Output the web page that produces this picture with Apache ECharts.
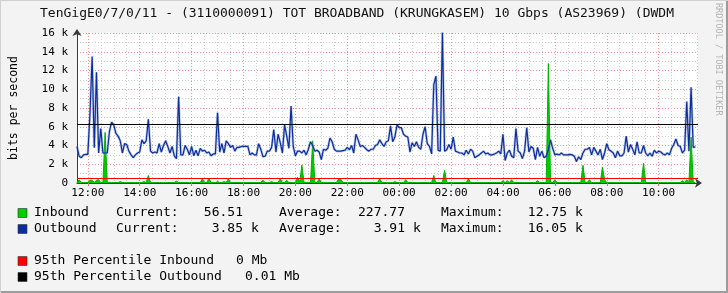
<!DOCTYPE html>
<html>
<head>
<meta charset="utf-8">
<script src="https://cdn.jsdelivr.net/npm/echarts@6/dist/echarts.min.js"></script>
<style>
html,body{margin:0;padding:0;background:#f3f3f3;}
#chart{width:728px;height:293px;}
</style>
</head>
<body>
<div id="chart"></div>
<script>
// ---- data (values in k bits per second, 5-minute samples) ----
const startMinute = 695;   // 11:35 on day 1
const stepMinutes = 5;
const endMinute = 2131;

const inbound = [
0.05,0.35,0.05,0.05,0.05,0.05,0.3,0.3,0.05,0.3,
0.35,0.05,0.05,5.4,0.05,0.05,0.05,0.05,0.05,0.05,
0.15,0.05,0.05,0.05,0.05,0.05,0.05,0.05,0.05,0.05,
0.05,0.15,0.05,0.8,0.05,0.05,0.05,0.05,0.05,0.05,
0.05,0.05,0.05,0.05,0.05,0.05,0.2,0.05,0.05,0.05,
0.05,0.05,0.05,0.05,0.05,0.05,0.05,0.05,0.45,0.05,
0.05,0.5,0.05,0.05,0.05,0.15,0.05,0.05,0.15,0.05,
0.45,0.05,0.05,0.05,0.05,0.05,0.05,0.05,0.05,0.05,
0.05,0.05,0.05,0.05,0.05,0.05,0.3,0.05,0.05,0.05,
0.15,0.05,0.05,0.05,0.45,0.05,0.05,0.3,0.05,0.05,
0.05,0.05,0.6,0.05,1.9,0.05,0.05,0.05,0.05,4.5,
0.05,0.05,0.45,0.05,0.05,0.05,0.05,0.05,0.05,0.05,
0.05,0.45,0.4,0.05,0.05,0.05,0.05,0.05,0.05,0.05,
0.05,0.05,0.05,0.05,0.05,0.05,0.05,0.05,0.05,0.05,
0.45,0.05,0.05,0.05,0.05,0.05,0.05,0.15,0.05,0.05,
0.05,0.05,0.35,0.05,0.05,0.05,0.05,0.05,0.05,0.05,
0.05,0.05,0.05,0.05,0.05,0.8,0.05,0.05,0.05,0.05,
1.35,0.05,0.05,0.05,0.05,0.05,0.05,0.05,0.05,0.05,
0.05,0.45,0.05,0.05,0.05,0.05,0.05,0.05,0.05,0.05,
0.05,0.05,0.05,0.05,0.05,0.05,0.05,0.25,0.05,0.25,
0.05,0.35,0.05,0.05,0.05,0.05,0.05,0.05,0.05,0.05,
0.05,0.05,0.05,0.25,0.05,0.05,0.05,0.05,12.75,0.05,
0.05,0.35,0.05,0.05,0.05,0.05,0.05,0.05,0.05,0.05,
0.05,0.05,0.05,0.05,1.9,0.05,0.05,0.35,0.05,0.05,
0.05,0.05,0.05,1.7,0.35,0.05,0.05,0.05,0.05,0.05,
0.05,0.05,0.05,0.05,0.05,0.05,0.05,0.05,0.05,0.05,
0.05,0.05,2.1,0.05,0.05,0.05,0.05,0.05,0.05,0.05,
0.05,0.05,0.05,0.05,0.05,0.05,0.05,0.05,0.05,0.05,
0.25,0.05,0.35,0.05,4.9,0.05,0.06
];

const outbound = [
3.9,2.85,2.7,3.0,3.05,3.05,7.4,13.5,3.75,11.8,
3.2,5.8,3.2,3.2,3.2,5.5,6.5,6.2,5.3,5.0,
4.5,3.2,4.2,4.1,3.4,3.0,2.7,3.0,3.2,3.3,
4.6,4.2,4.5,6.8,3.4,3.2,3.3,3.2,4.2,3.3,
4.0,4.5,3.9,3.2,3.9,2.9,2.6,9.2,3.0,3.0,
4.0,3.6,3.0,3.9,2.9,3.5,2.9,3.7,3.4,3.5,
3.2,3.3,2.9,3.1,3.1,7.5,3.3,4.2,3.2,4.5,
4.2,3.8,4.0,3.4,3.8,3.8,3.9,3.9,3.9,3.9,
3.0,3.2,3.0,3.0,4.2,3.6,2.8,2.85,3.4,3.4,
3.8,5.7,3.3,5.2,4.3,3.2,6.2,5.0,3.7,8.2,
3.9,2.9,3.4,3.4,3.2,3.5,3.0,3.6,4.4,4.0,
3.4,3.5,3.3,2.5,3.6,3.5,3.7,4.8,4.4,3.6,
3.4,3.4,3.4,3.45,3.5,3.8,3.55,4.0,3.2,5.2,
4.6,3.9,4.0,3.8,3.55,3.4,3.6,3.6,4.0,4.1,
4.6,4.2,3.9,4.4,4.5,6.1,4.4,4.9,6.2,5.9,
5.9,5.2,5.0,4.9,3.3,4.3,3.9,4.4,3.8,3.6,
5.2,6.0,4.2,3.9,3.1,10.5,11.4,3.5,3.4,16.05,
3.4,3.55,4.1,3.6,4.9,3.4,3.3,3.2,3.2,3.0,
3.5,3.1,3.6,3.4,2.7,2.85,3.0,3.2,3.4,3.1,
3.2,3.0,3.0,3.1,3.2,3.4,3.1,5.2,2.4,3.2,
3.5,2.85,2.7,5.8,3.4,3.2,2.6,3.4,5.9,3.3,
3.9,3.7,2.5,3.8,2.85,3.4,2.7,2.85,3.6,4.6,
3.7,3.0,3.1,3.0,3.2,3.0,3.0,3.0,3.05,3.0,
2.85,2.3,2.8,2.5,3.2,3.6,3.6,3.8,3.0,3.8,
3.4,3.0,3.6,2.5,3.2,4.2,3.55,3.4,3.2,2.7,
3.4,2.9,2.9,3.2,5.0,3.3,4.1,3.6,3.0,4.4,
3.2,3.2,4.0,3.2,2.9,3.2,2.85,3.5,3.2,3.4,
3.3,3.1,3.0,3.2,3.0,3.7,4.1,4.7,4.0,3.9,
3.2,3.5,8.7,3.4,10.2,3.8,3.85
];

const inboundP95 = 0.53;
const outboundP95 = 6.3;

const xTickLabels = ['12:00','14:00','16:00','18:00','20:00','22:00','00:00','02:00','04:00','06:00','08:00','10:00'];
const yMax = 16, yInterval = 2;

const titleText = 'TenGigE0/7/0/11 - (3110000091) TOT BROADBAND (KRUNGKASEM) 10 Gbps (AS23969) (DWDM';
const legendNames = ['Inbound', 'Outbound'];
const legendColors = ['#00cc00', '#0b2e9c'];
const currentValues = ['56.51', '3.85 k'];
const averageValues = ['227.77', '3.91 k'];
const maximumValues = ['12.75 k', '16.05 k'];
const pctNames = ['95th Percentile Inbound', '95th Percentile Outbound'];
const pctValues = ['0 Mb', '0.01 Mb'];
const pctColors = ['#ff0000', '#000000'];

// ---- build ----
function toMinute(lbl) {
  const p = lbl.split(':');
  let m = (+p[0]) * 60 + (+p[1]);
  if (m < startMinute) m += 1440;
  return m;
}
const majorX = xTickLabels.map(toMinute);
const minorX = [];
for (let m = 720; m <= endMinute; m += 30) if (m % 120 !== 0) minorX.push(m);

const inPairs = inbound.map((v, i) => [startMinute + i * stepMinutes, v]);
const outPairs = outbound.map((v, i) => [startMinute + i * stepMinutes, v]);

const mono = 'DejaVu Sans Mono';
function fmtTime(v) {
  const h = Math.floor(v / 60) % 24, mi = v % 60;
  return String(h).padStart(2, '0') + ':' + String(mi).padStart(2, '0');
}

const graphics = [];
graphics.push({type:'text', x:40, y:14, style:{text:titleText, font:'13px ' + mono, fill:'#111', textAlign:'left', textVerticalAlign:'middle'}});
graphics.push({type:'text', x:714, y:3, rotation:-Math.PI/2, style:{text:'RRDTOOL / TOBI OETIKER', font:'8.5px ' + mono, fill:'#b4b4b4', textAlign:'left', textVerticalAlign:'bottom'}});

const rowY = [213, 229];
function valueText(str, xRight, y) {
  const parts = str.split(' ');
  graphics.push({type:'text', x:xRight, y:y, style:{text:parts[0], font:'13px ' + mono, fill:'#000', textAlign:'right', textVerticalAlign:'middle'}});
  if (parts[1]) graphics.push({type:'text', x:xRight + 8, y:y, style:{text:parts[1], font:'13px ' + mono, fill:'#000', textAlign:'left', textVerticalAlign:'middle'}});
}
legendNames.forEach((name, k) => {
  const y = rowY[k];
  graphics.push({type:'rect', shape:{x:18, y:y - 4.5, width:9, height:9}, style:{fill:legendColors[k], stroke:'#333', lineWidth:0.6}});
  graphics.push({type:'text', x:34, y:y, style:{text:name, font:'13px ' + mono, fill:'#000', textVerticalAlign:'middle'}});
  graphics.push({type:'text', x:116, y:y, style:{text:'Current:', font:'13px ' + mono, fill:'#000', textVerticalAlign:'middle'}});
  valueText(currentValues[k], 243, y);
  graphics.push({type:'text', x:279, y:y, style:{text:'Average:', font:'13px ' + mono, fill:'#000', textVerticalAlign:'middle'}});
  valueText(averageValues[k], 405, y);
  graphics.push({type:'text', x:441, y:y, style:{text:'Maximum:', font:'13px ' + mono, fill:'#000', textVerticalAlign:'middle'}});
  valueText(maximumValues[k], 567, y);
});
const pctY = [261, 277];
const pctValX = [236, 245];
pctNames.forEach((name, k) => {
  const y = pctY[k];
  graphics.push({type:'rect', shape:{x:18, y:y - 4.5, width:9, height:9}, style:{fill:pctColors[k], stroke:'#333', lineWidth:0.6}});
  graphics.push({type:'text', x:34, y:y, style:{text:name, font:'13px ' + mono, fill:'#000', textVerticalAlign:'middle'}});
  graphics.push({type:'text', x:pctValX[k], y:y, style:{text:pctValues[k], font:'13px ' + mono, fill:'#000', textVerticalAlign:'middle'}});
});
// frame shading
graphics.push({type:'rect', shape:{x:0, y:291, width:728, height:2}, style:{fill:'#9c9c9c'}});
graphics.push({type:'rect', shape:{x:726, y:0, width:2, height:293}, style:{fill:'#9c9c9c'}});
graphics.push({type:'rect', shape:{x:0, y:0, width:728, height:1}, style:{fill:'#d0d0d0'}});
graphics.push({type:'rect', shape:{x:0, y:0, width:1, height:293}, style:{fill:'#d0d0d0'}});

const majorGrid = {color:'rgba(235,120,120,0.8)', width:1, type:[1,2]};
const minorGrid = {color:'#cdcdcd', width:1, type:[1,2]};

const chart = echarts.init(document.getElementById('chart'), null, {renderer:'canvas'});
chart.setOption({
  backgroundColor:'#f3f3f3',
  animation:false,
  textStyle:{fontFamily:mono},
  grid:{left:72, top:33, right:30, bottom:110, show:true, backgroundColor:'#ffffff', borderWidth:0},
  xAxis:[
    {type:'value', min:startMinute, max:endMinute, position:'bottom',
     axisLine:{show:true, onZero:false, lineStyle:{color:'#3a3a3a', width:1}, symbol:['none','arrow'], symbolSize:[7,7], symbolOffset:[0,4]},
     axisTick:{show:true, length:3, customValues:majorX, lineStyle:{color:'#e07070'}},
     axisLabel:{customValues:majorX, formatter:fmtTime, color:'#000', fontSize:11, fontFamily:mono, margin:5},
     splitLine:{show:true, lineStyle:majorGrid}},
    {type:'value', min:startMinute, max:endMinute, position:'top',
     axisLine:{show:false}, axisTick:{show:false, customValues:minorX}, axisLabel:{show:false},
     splitLine:{show:true, lineStyle:minorGrid}}
  ],
  yAxis:{type:'value', min:0, max:yMax, interval:yInterval,
     name:'bits per second', nameLocation:'middle', nameGap:57, nameRotate:90,
     nameTextStyle:{fontFamily:mono, fontSize:11.5, color:'#000'},
     axisLine:{show:true, lineStyle:{color:'#3a3a3a', width:1}, symbol:['none','arrow'], symbolSize:[7,7], symbolOffset:[0,4]},
     axisTick:{show:false},
     axisLabel:{formatter:v => v === 0 ? '0' : v + ' k', color:'#000', fontSize:11, fontFamily:mono, margin:9},
     splitLine:{show:true, lineStyle:majorGrid},
     minorTick:{show:false, splitNumber:2},
     minorSplitLine:{show:true, lineStyle:minorGrid}},
  graphic:graphics,
  series:[
    {type:'line', name:'Inbound', data:inPairs, symbol:'none', silent:true,
     lineStyle:{width:1, color:'#00b000'}, areaStyle:{color:'#00cc00', opacity:1}, z:2},
    {type:'line', name:'OutboundShade', data:outPairs, symbol:'none', silent:true,
     lineStyle:{width:2.6, color:'rgba(95,125,210,0.4)'}, z:3},
    {type:'line', name:'Outbound', data:outPairs, symbol:'none', silent:true,
     lineStyle:{width:1.2, color:'#0b2e9c'}, z:4,
     markLine:{silent:true, symbol:'none', label:{show:false}, animation:false,
       data:[
         {yAxis:inboundP95, lineStyle:{color:'#ff0000', width:1.2, type:'solid'}},
         {yAxis:outboundP95, lineStyle:{color:'#000000', width:1.2, type:'solid'}}
       ]}}
  ]
});
</script>
</body>
</html>
